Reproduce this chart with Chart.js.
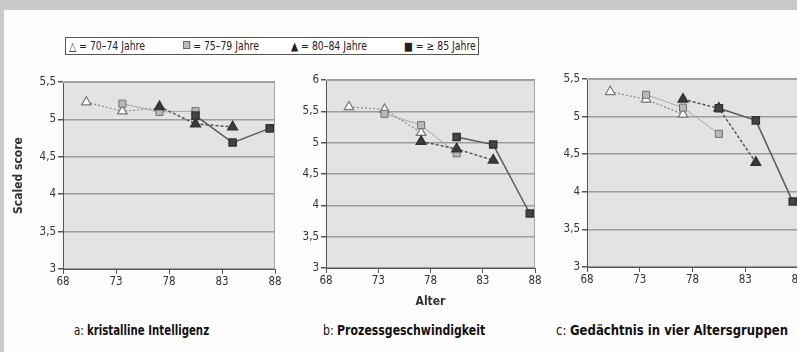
<!DOCTYPE html>
<html>
<head>
<meta charset="utf-8">
<script src="https://cdn.jsdelivr.net/npm/chart.js@4.4.1/dist/chart.umd.min.js"></script>
<style>
  html, body { margin: 0; padding: 0; }
  body {
    width: 797px; height: 352px; overflow: hidden; position: relative;
    background: #c9c9c9;
    font-family: 'DejaVu Sans Condensed', 'Liberation Sans', sans-serif;
    color: #222;
  }
  #sheet { position: absolute; left: 4px; top: 10px; right: 0; bottom: 0; background: #fdfdfd; }
  .wrap { position: absolute; }
  .legend {
    position: absolute; left: 65px; top: 37px; width: 412px; height: 16px;
    border: 1px solid #555; background: #fff; font-size: 11.5px; line-height: 16px;
  }
  .legend span.item { position: absolute; top: 0; white-space: nowrap; transform: scaleX(0.9); transform-origin: left center; }
  .mk { display: inline-block; width: 6px; height: 6px; border: 1px solid #666; background: #bbb; vertical-align: 1px; }
  .cap { position: absolute; top: 322px; font-size: 13.5px; white-space: nowrap; color: #111; transform-origin: left center; }
  .cap b { font-weight: bold; }
</style>
</head>
<body>
<div id="sheet"></div>
<div class="legend" id="legend"></div>

<div class="wrap" style="left:0px; top:70px;"><canvas id="chartA"></canvas></div>
<div class="wrap" style="left:290px; top:68px;"><canvas id="chartB"></canvas></div>
<div class="wrap" style="left:551px; top:67px;"><canvas id="chartC"></canvas></div>

<div class="cap" style="left:74px; transform: scaleX(0.84);">a: <b>kristalline Intelligenz</b></div>
<div class="cap" style="left:323px; transform: scaleX(0.9);">b: <b>Prozessgeschwindigkeit</b></div>
<div class="cap" style="left:556px; transform: scaleX(0.96);">c: <b>Gedächtnis in vier Altersgruppen</b></div>

<script>
// age groups and the mean ages at which each group was measured
const groups = ['70–74 Jahre', '75–79 Jahre', '80–84 Jahre', '≥ 85 Jahre'];
const legendMarks = ['△', '<span class="mk"></span>', '▲', '■'];
const ages70 = [70.2, 73.6, 77.1];
const ages75 = [73.6, 77.1, 80.5];
const ages80 = [77.1, 80.5, 84.0];
const ages85 = [80.5, 84.0, 87.5];

const xTicks = [68, 73, 78, 83, 88];

// a: kristalline Intelligenz
const kristallin70 = [5.23, 5.11, 5.15];
const kristallin75 = [5.21, 5.10, 5.11];
const kristallin80 = [5.17, 4.94, 4.90];
const kristallin85 = [5.05, 4.69, 4.88];

// b: Prozessgeschwindigkeit
const tempo70 = [5.57, 5.53, 5.16];
const tempo75 = [5.46, 5.28, 4.83];
const tempo80 = [5.02, 4.90, 4.72];
const tempo85 = [5.09, 4.97, 3.87];

// c: Gedächtnis
const gedaechtnis70 = [5.33, 5.23, 5.03];
const gedaechtnis75 = [5.29, 5.12, 4.77];
const gedaechtnis80 = [5.23, 5.11, 4.39];
const gedaechtnis85 = [5.11, 4.95, 3.87];

// legend (html, spans both first charts)
const legendX = [3, 117, 225, 338];
document.querySelector('#legend').innerHTML = groups.map((g, i) =>
    '<span class="item" style="left:' + legendX[i] + 'px">' + legendMarks[i] + ' = ' + g + '</span>'
).join('');

const seriesStyle = [
    { borderColor: '#8a8a8a', borderWidth: 1.2, borderDash: [2, 2], pointStyle: 'triangle', pointRadius: 5.5, pointBackgroundColor: '#fff', pointBorderColor: '#777' },
    { borderColor: '#a8a8a8', borderWidth: 1, borderDash: [], pointStyle: 'rect', pointRadius: 5, pointBackgroundColor: '#b8b8b8', pointBorderColor: '#707070' },
    { borderColor: '#555', borderWidth: 1.5, borderDash: [3, 2], pointStyle: 'triangle', pointRadius: 5.5, pointBackgroundColor: '#3a3a3a', pointBorderColor: '#333' },
    { borderColor: '#5a5a5a', borderWidth: 1.5, borderDash: [], pointStyle: 'rect', pointRadius: 5, pointBackgroundColor: '#444', pointBorderColor: '#333' },
];
const agesList = [ages70, ages75, ages80, ages85];

const tickFont = { family: "'DejaVu Sans Condensed', sans-serif", size: 11.5 };
const titleFont = { family: "'DejaVu Sans Condensed', sans-serif", size: 12, weight: 'bold' };

const plotBg = {
    id: 'plotBg',
    beforeDraw(chart) {
        const { ctx, chartArea: a } = chart;
        ctx.save();
        ctx.fillStyle = '#e3e3e3';
        ctx.fillRect(a.left, a.top, a.width, a.height);
        ctx.restore();
    },
    beforeDatasetsDraw(chart) {
        const { ctx, chartArea: a } = chart;
        ctx.save();
        ctx.strokeStyle = '#a5a5a5';
        ctx.lineWidth = 1;
        ctx.beginPath();
        ctx.moveTo(a.left, a.top + 0.5);
        ctx.lineTo(a.right - 0.5, a.top + 0.5);
        ctx.lineTo(a.right - 0.5, a.bottom);
        ctx.stroke();
        ctx.restore();
    }
};

function makeChart(id, values, yMax, size, yWidth, showYTitle, showXTitle) {
    const canvas = document.querySelector('#' + id);
    canvas.width = size[0];
    canvas.height = size[1];
    canvas.style.width = size[0] + 'px';
    canvas.style.height = size[1] + 'px';

    const datasets = values.map((v, i) => Object.assign({
        label: groups[i],
        data: v.map((y, k) => ({ x: agesList[i][k], y: y })),
        order: 3 - i,
        tension: 0,
        fill: false,
    }, seriesStyle[i]));

    return new Chart(canvas, {
        type: 'line',
        data: { datasets },
        plugins: [plotBg],
        options: {
            responsive: false,
            animation: false,
            layout: { padding: { top: 12, right: 12, left: 0, bottom: 0 } },
            plugins: { legend: { display: false }, tooltip: { enabled: false } },
            scales: {
                x: {
                    type: 'linear', min: 68, max: 88,
                    afterBuildTicks: (s) => { s.ticks = xTicks.map(v => ({ value: v })); },
                    afterFit: (s) => { s.height = 42; },
                    grid: { drawOnChartArea: false, drawTicks: true, tickLength: 5, tickColor: '#555' },
                    border: { display: true, color: '#555', width: 1 },
                    ticks: { color: '#333', font: tickFont, padding: 1, maxRotation: 0 },
                    title: { display: showXTitle, text: 'Alter', color: '#333', font: titleFont, padding: { top: 0, bottom: 1 } },
                },
                y: {
                    min: 3, max: yMax,
                    afterFit: (s) => { s.width = yWidth; },
                    grid: { color: '#9c9c9c', lineWidth: 1.5, drawTicks: true, tickLength: 5, tickColor: '#555' },
                    border: { display: true, color: '#555', width: 1 },
                    ticks: {
                        stepSize: 0.5, color: '#333', font: tickFont, padding: 2,
                        callback: (v) => String(v).replace('.', ','),
                    },
                    title: { display: showYTitle, text: 'Scaled score', color: '#333', font: titleFont, padding: { top: 12, bottom: 0 } },
                },
            },
        },
    });
}

makeChart('chartA', [kristallin70, kristallin75, kristallin80, kristallin85], 5.5, [287, 241], 63, true, false);
makeChart('chartB', [tempo70, tempo75, tempo80, tempo85], 6, [257, 242], 36, false, true);
makeChart('chartC', [gedaechtnis70, gedaechtnis75, gedaechtnis80, gedaechtnis85], 5.5, [259, 242], 36, false, false);
</script>
</body>
</html>
